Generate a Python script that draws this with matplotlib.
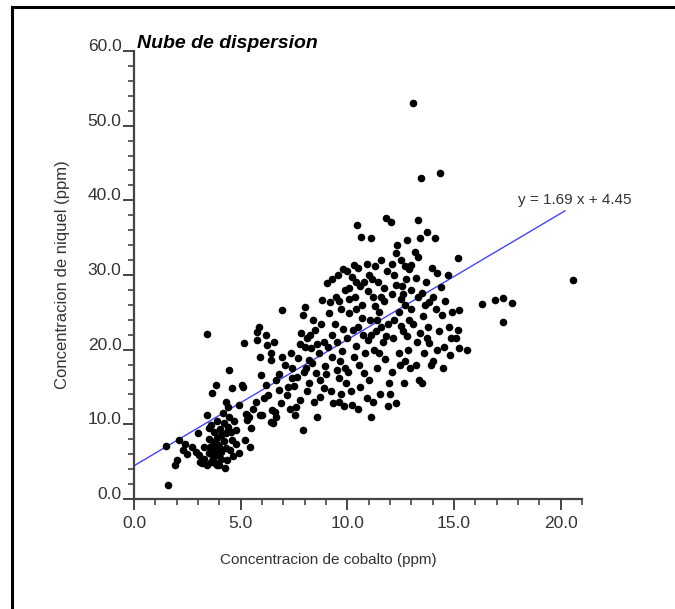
import numpy as np
import matplotlib
matplotlib.use('Agg')
import matplotlib.pyplot as plt
from matplotlib.ticker import MultipleLocator, FormatStrFormatter
from matplotlib.lines import Line2D

plt.rcParams['font.family'] = ['Liberation Sans', 'DejaVu Sans']

# cobalto (ppm), niquel (ppm), grouped by cobalt band
pts_1_4 = [(1.6, 1.9), (1.5, 7.1), (2.1, 7.9), (1.9, 4.6), (2.0, 5.2), (2.3, 6.6),
           (2.4, 7.3), (2.7, 7.0), (2.5, 6.0), (2.9, 6.3),
           (3.0, 8.8), (3.05, 5.9), (3.1, 5.0), (3.2, 4.8), (3.3, 5.4), (3.4, 11.2),
           (3.4, 4.6), (3.4, 22.1), (3.5, 6.2), (3.5, 8.1), (3.6, 9.9), (3.6, 4.9),
           (3.65, 14.2), (3.7, 7.6), (3.7, 5.5), (3.75, 9.0), (3.8, 4.8), (3.8, 6.7),
           (3.85, 15.3), (3.9, 8.2), (3.9, 10.4), (3.95, 5.9), (3.95, 7.2), (3.6, 6.6),
           (3.3, 6.9), (3.5, 9.5), (3.7, 6.0), (3.9, 4.5), (3.55, 7.0)]
pts_4_6 = [(4.0, 4.6), (4.05, 9.4), (4.1, 8.6), (4.1, 6.3), (4.15, 11.5), (4.2, 7.8),
           (4.25, 4.1), (4.3, 13.0), (4.3, 8.8), (4.35, 5.2), (4.4, 12.3), (4.45, 11.0),
           (4.45, 17.3), (4.5, 6.6), (4.55, 9.0), (4.6, 14.9), (4.6, 7.9), (4.7, 10.4),
           (4.8, 9.2), (4.8, 7.3), (4.9, 12.6), (4.9, 6.2), (4.2, 10.2), (4.0, 7.0),
           (4.65, 5.8), (4.1, 5.3), (4.3, 6.8), (4.4, 9.6),
           (5.05, 15.3), (5.1, 15.0), (5.15, 20.9), (5.2, 7.9), (5.25, 11.4), (5.3, 10.6),
           (5.3, 11.2), (5.4, 11.0), (5.45, 7.0), (5.5, 9.5), (5.7, 13.0), (5.75, 22.4),
           (5.75, 21.3), (5.85, 23.0), (5.95, 16.6), (5.6, 12.1), (5.9, 11.3), (5.9, 19.0)]
pts_6_8 = [(6.0, 11.2), (6.1, 13.5), (6.2, 22.0), (6.2, 15.3), (6.25, 20.6), (6.4, 19.5),
           (6.4, 18.6), (6.4, 10.3), (6.45, 11.9), (6.5, 10.2), (6.6, 11.7), (6.65, 11.0),
           (6.65, 15.9), (6.8, 14.6), (6.95, 25.3), (6.95, 19.0), (6.3, 13.9), (6.8, 16.7),
           (6.9, 12.8), (6.55, 21.0),
           (7.1, 17.9), (7.15, 13.9), (7.35, 19.5), (7.4, 17.5), (7.4, 16.2), (7.55, 11.2),
           (7.6, 12.3), (7.65, 16.3), (7.8, 13.3), (7.85, 22.2), (7.9, 9.2), (7.9, 24.6),
           (7.5, 15.2), (7.7, 18.9), (7.2, 15.0), (7.95, 17.0), (7.3, 12.0), (7.8, 20.8)]
pts_8_10 = [(8.0, 25.7), (8.0, 20.3), (8.1, 14.5), (8.2, 18.6), (8.3, 20.2), (8.35, 18.2),
            (8.5, 22.6), (8.55, 16.9), (8.6, 11.0), (8.7, 15.9), (8.7, 13.7), (8.8, 26.6),
            (8.9, 21.0), (8.4, 24.0), (8.65, 19.5), (8.95, 17.8), (8.2, 15.5), (8.75, 23.5),
            (8.45, 13.0), (8.1, 21.5), (8.9, 14.8), (8.25, 22.0), (8.6, 20.8), (8.05, 17.5),
            (9.05, 28.9), (9.1, 20.3), (9.15, 24.9), (9.3, 22.0), (9.3, 19.0), (9.5, 17.3),
            (9.6, 16.2), (9.6, 13.0), (9.95, 15.5), (9.2, 26.4), (9.4, 23.5), (9.45, 27.0),
            (9.5, 21.0), (9.7, 25.5), (9.75, 19.8), (9.8, 22.8), (9.85, 12.5), (9.9, 28.0),
            (9.55, 30.0), (9.25, 14.5), (9.65, 18.5), (9.0, 16.8), (9.35, 12.9), (9.9, 17.5),
            (9.7, 14.0), (9.3, 29.5), (9.8, 30.8), (9.6, 26.5)]
pts_10_12 = [(10.0, 30.5), (10.1, 24.9), (10.2, 29.7), (10.2, 12.6), (10.3, 31.3), (10.35, 27.0),
             (10.4, 20.5), (10.45, 36.7), (10.5, 31.0), (10.5, 23.0), (10.55, 18.0), (10.6, 15.0),
             (10.65, 35.1), (10.7, 26.0), (10.75, 22.0), (10.8, 29.0), (10.85, 19.5), (10.9, 13.5),
             (10.95, 27.8), (10.0, 21.5), (10.05, 17.0), (10.15, 14.5), (10.25, 22.6), (10.4, 25.5),
             (10.6, 28.5), (10.7, 24.3), (10.8, 16.9), (10.9, 31.5), (10.3, 19.0), (10.95, 21.3),
             (10.5, 12.0), (10.1, 26.8), (10.1, 28.3), (10.4, 29.0),
             (11.0, 30.0), (11.05, 24.0), (11.1, 34.9), (11.1, 11.0), (11.2, 27.0), (11.25, 20.0),
             (11.3, 31.2), (11.35, 22.5), (11.4, 17.5), (11.45, 29.0), (11.5, 25.0), (11.55, 14.0),
             (11.6, 32.0), (11.65, 21.0), (11.7, 26.5), (11.75, 18.8), (11.8, 37.6), (11.85, 30.5),
             (11.9, 23.5), (11.95, 15.5), (11.2, 13.0), (11.5, 19.5), (11.0, 16.0), (11.7, 28.3),
             (11.3, 25.8), (11.9, 12.5), (11.6, 23.0), (11.15, 29.5), (11.4, 24.0), (11.8, 21.8),
             (11.1, 22.0), (11.6, 27.0)]
pts_12_14 = [(12.05, 37.1), (12.1, 27.5), (12.15, 21.5), (12.2, 30.0), (12.3, 32.9), (12.35, 34.0),
             (12.4, 25.0), (12.45, 18.0), (12.5, 32.0), (12.55, 28.5), (12.6, 22.5), (12.65, 15.5),
             (12.7, 26.0), (12.75, 29.5), (12.8, 34.7), (12.85, 20.0), (12.9, 24.0), (12.95, 17.5),
             (12.2, 24.0), (12.4, 19.5), (12.6, 27.5), (12.0, 14.0), (12.3, 12.8), (12.7, 18.5),
             (12.9, 30.8), (12.5, 23.2), (12.1, 17.0), (12.8, 21.8), (12.3, 28.6), (12.7, 31.2),
             (12.5, 26.8), (12.1, 31.5),
             (13.0, 31.3), (13.1, 53.1), (13.15, 33.1), (13.2, 29.6), (13.2, 17.9), (13.3, 37.3),
             (13.3, 32.4), (13.4, 34.9), (13.4, 22.2), (13.45, 43.0), (13.5, 27.6), (13.55, 24.5),
             (13.6, 19.5), (13.65, 26.0), (13.75, 35.7), (13.85, 26.4), (13.85, 20.9), (13.9, 17.9),
             (13.0, 25.5), (13.25, 21.0), (13.7, 29.0), (13.1, 23.5), (13.35, 16.0), (13.8, 23.0),
             (13.95, 31.0), (13.0, 28.0), (13.3, 27.0), (13.5, 15.5), (13.75, 21.5)]
pts_14_21 = [(14.1, 34.9), (14.2, 30.3), (14.2, 19.9), (14.35, 43.6), (14.4, 28.4), (14.45, 24.6),
             (14.55, 20.3), (14.7, 30.0), (14.8, 19.3), (14.3, 22.5), (14.6, 26.5), (14.9, 25.0),
             (14.0, 27.0), (14.5, 17.5), (14.75, 23.0), (14.15, 25.5), (14.85, 21.5), (14.0, 18.5),
             (15.1, 21.6), (15.2, 32.3), (15.2, 22.6), (15.25, 25.3), (15.25, 20.2), (15.6, 19.9),
             (16.3, 26.1), (16.9, 26.6), (17.3, 26.9), (17.7, 26.2), (17.3, 23.7), (20.6, 29.3)]

slope = 1.69
intercept = 4.45
fit_range = [0.0, 20.2]

pts = np.array(pts_1_4 + pts_4_6 + pts_6_8 + pts_8_10 + pts_10_12 + pts_12_14 + pts_14_21)
cobalto = pts[:, 0]
niquel = pts[:, 1]

W, H = 675, 609
fig = plt.figure(figsize=(W / 100, H / 100), dpi=100)
ax = fig.add_axes([134 / W, 1 - 499 / H, 448 / W, 448 / H])

ax.scatter(cobalto, niquel, s=30, c='black', linewidths=0, zorder=3)
xf = np.array(fit_range)
ax.plot(xf, slope * xf + intercept, color='#4444ff', lw=1.0, zorder=2)
ax.text(18.0, 40.0, 'y = %.2f x + %.2f' % (slope, intercept), fontsize=11,
        color='#333333', ha='left', va='center')

ax.set_xlim(0, 21)
ax.set_ylim(0, 60)
for s in ['top', 'right']:
    ax.spines[s].set_visible(False)
for s in ['left', 'bottom']:
    ax.spines[s].set_color('#444444')
    ax.spines[s].set_linewidth(1.6)

ax.xaxis.set_major_locator(MultipleLocator(5))
ax.xaxis.set_minor_locator(MultipleLocator(1))
ax.yaxis.set_major_locator(MultipleLocator(10))
ax.yaxis.set_minor_locator(MultipleLocator(2))
ax.xaxis.set_major_formatter(FormatStrFormatter('%.1f'))
ax.yaxis.set_major_formatter(FormatStrFormatter('%.1f'))
ax.tick_params(which='major', length=8, width=1.4, color='#444444',
               labelsize=12.5, labelcolor='#333333')
ax.tick_params(which='minor', length=4, width=1.2, color='#444444')
ax.tick_params(axis='x', which='major', pad=4)
ax.tick_params(axis='y', which='major', pad=1)
for lab in ax.get_yticklabels():
    lab.set_va('baseline')

ax.set_xlabel('Concentracion de cobalto (ppm)', fontsize=11, color='#333333')
ax.xaxis.set_label_coords(0.433, -0.121)
ax.set_ylabel('Concentracion de niquel (ppm)', fontsize=12, color='#333333')
ax.yaxis.set_label_coords(-0.143, 0.5)
ax.text(0.006, 1.007, 'Nube de dispersion', transform=ax.transAxes, fontsize=14,
        fontweight='bold', fontstyle='italic', ha='left', va='baseline')

# outer frame (left and top edges visible)
fig.add_artist(Line2D([12 / W, 12 / W], [0, 1 - 7 / H], color='black', lw=2.2))
fig.add_artist(Line2D([12 / W, 1], [1 - 7 / H, 1 - 7 / H], color='black', lw=2.2))

fig.savefig('out.png', dpi=100)
